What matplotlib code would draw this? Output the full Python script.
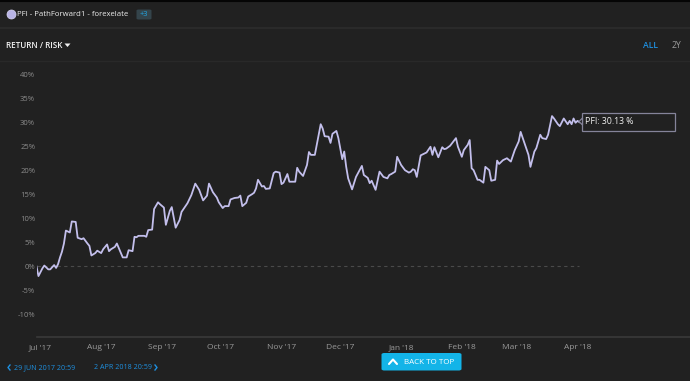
import matplotlib
matplotlib.use("Agg")
import matplotlib.dates as mdates
import matplotlib.pyplot as plt
import pandas as pd
from matplotlib.lines import Line2D
from matplotlib.patches import FancyBboxPatch, Polygon

plt.rcParams["font.family"] = ["Open Sans", "DejaVu Sans"]

# --- data --------------------------------------------------------------
START = "2017-06-29"
END = "2018-04-02"
# calendar-day offset from START of each sample
DAYS = [0, 1, 3, 4, 6, 7, 9, 10, 11, 12,
        13, 14, 15, 17, 18, 20, 21, 23, 24, 26,
        27, 28, 30, 31, 33, 34, 36, 37, 38, 40,
        41, 43, 44, 46, 47, 49, 50, 51, 52, 55,
        56, 57, 59, 60, 62, 63, 65, 66, 68, 69,
        71, 73, 74, 77, 79, 81, 83, 85, 87, 88,
        90, 92, 93, 95, 96, 98, 99, 101, 103, 104,
        105, 107, 108, 110, 111, 112, 113, 115, 116, 117,
        119, 121, 122, 124, 125, 126, 128, 129, 131, 132,
        133, 134, 136, 138, 139, 140, 142, 145, 146, 147,
        149, 150, 151, 153, 154, 156, 157, 158, 159, 161,
        163, 166, 167, 169, 170, 171, 173, 175, 177, 179,
        180, 181, 183, 184, 186, 188, 190, 191, 192, 193,
        194, 196, 199, 201, 202, 203, 205, 207, 208, 209,
        211, 214, 215, 217, 218, 220, 221, 222, 223, 225,
        226, 228, 229, 231, 232, 234, 235, 236, 238, 240,
        242, 244, 246, 247, 249, 251, 252, 254, 255, 257,
        258, 260, 261, 263, 264, 266, 267, 269, 271, 272,
        273, 274, 275, 276, 277]
# cumulative return, %
PFI = [0.0, -2.0, -0.4, 0.2, -0.6, -0.6, 0.3, -0.3, 0.5, 1.9,
       3.1, 4.8, 7.5, 7.1, 9.4, 9.3, 6.0, 5.7, 5.9, 4.8,
       4.3, 2.3, 2.8, 3.3, 2.8, 3.6, 4.6, 3.2, 3.6, 4.1,
       4.8, 2.9, 1.9, 1.9, 3.4, 3.2, 6.2, 6.1, 6.4, 6.4,
       6.2, 7.6, 7.7, 12.0, 13.4, 13.0, 12.3, 8.7, 11.6, 12.4,
       8.1, 9.7, 11.4, 13.2, 14.9, 17.3, 16.0, 13.8, 14.8, 17.3,
       15.5, 14.4, 13.4, 12.2, 12.6, 12.6, 14.0, 14.3, 14.4, 14.8,
       12.6, 13.3, 14.6, 15.1, 15.4, 16.3, 18.1, 16.7, 16.8, 16.2,
       16.3, 19.5, 19.8, 19.6, 17.2, 17.5, 19.3, 17.7, 17.7, 17.7,
       20.6, 19.8, 18.9, 21.2, 23.9, 23.3, 23.3, 29.7, 28.8, 27.2,
       27.1, 25.8, 27.7, 28.3, 26.8, 22.4, 24.0, 20.8, 18.4, 16.1,
       18.7, 21.0, 19.1, 18.5, 17.4, 17.9, 16.0, 19.8, 18.7, 18.4,
       19.1, 19.3, 19.8, 22.9, 21.2, 20.1, 19.6, 19.8, 20.3, 20.1,
       18.7, 23.2, 23.8, 25.0, 23.3, 24.9, 22.8, 24.9, 24.5, 24.6,
       25.2, 26.8, 25.0, 22.9, 24.3, 25.4, 26.4, 20.5, 20.1, 18.1,
       18.1, 17.5, 20.8, 20.1, 17.9, 18.1, 22.1, 21.4, 22.2, 22.6,
       21.9, 24.3, 26.1, 28.1, 25.7, 23.3, 20.8, 24.0, 24.7, 27.5,
       26.8, 26.6, 27.5, 31.4, 30.9, 29.7, 29.3, 30.9, 29.7, 30.4,
       29.7, 30.9, 30.0, 30.4, 30.13]
Y_TICKS = [-10, -5, 0, 5, 10, 15, 20, 25, 30, 35, 40]

BG = "#212121"
LINE = "#c3bfec"
BLUE = "#1e90e0"
W, H = 690, 381


def fx(x):
    return x / W


def fy(y):
    return 1 - y / H


dates = pd.Timestamp(START) + pd.to_timedelta(DAYS, unit="D")

fig = plt.figure(figsize=(W / 100, H / 100), dpi=100, facecolor=BG)
ax = fig.add_axes([fx(36.5), fy(337), fx(690 - 36.5), (337 - 70) / H])
ax.set_facecolor(BG)

ax.plot(dates, PFI, color=LINE, lw=1.3, zorder=3)
ax.hlines(0, pd.Timestamp(START), pd.Timestamp(END), colors="#4a4a4a",
          linestyles=(0, (3, 3)), lw=0.8, zorder=1)

ax.set_xlim(pd.Timestamp(START), pd.Timestamp(START) + pd.Timedelta(days=333.4))
ax.set_ylim(-14.72, 41.02)
ax.set_yticks(Y_TICKS)
ax.set_yticklabels([f"{v}%" for v in Y_TICKS])
ax.set_xticks(pd.date_range(START, END, freq="MS"))
ax.xaxis.set_major_formatter(mdates.DateFormatter("%b '%y"))
ax.tick_params(axis="y", length=0, pad=1, labelsize=5.5, labelcolor="#8c8c8c")
ax.tick_params(axis="x", length=0, pad=5, labelsize=6, labelcolor="#9a9a9a")
for s in ["top", "right", "left"]:
    ax.spines[s].set_visible(False)
ax.spines["bottom"].set_color("#3a3a3a")
ax.spines["bottom"].set_linewidth(1.2)

# tooltip on the last point
box = FancyBboxPatch((fx(582), fy(131)), fx(675 - 582), (131 - 113) / H,
                     boxstyle="square,pad=0", transform=fig.transFigure,
                     facecolor=BG, edgecolor="#85849a", lw=0.9, zorder=5)
fig.add_artist(box)
fig.add_artist(Polygon([(fx(582.5), fy(118)), (fx(579), fy(121.5)), (fx(582.5), fy(125))],
                       closed=True, transform=fig.transFigure, facecolor=BG,
                       edgecolor="#85849a", lw=0.9, zorder=6))
fig.text(fx(585), fy(122), "PFI: 30.13 %", color="#f0f0f0", fontsize=6.3,
         va="center", ha="left", zorder=7)

# header chrome
fig.add_artist(Line2D([0, 1], [fy(0.5), fy(0.5)], color="#050505", lw=1.5))
fig.add_artist(Line2D([0, 1], [fy(28), fy(28)], color="#2c2c2c", lw=1.2))
fig.add_artist(Line2D([0, 1], [fy(61), fy(61)], color="#292929", lw=1))
fig.add_artist(Line2D([fx(10.7)], [fy(14)], marker="o", ms=6.5, color="#b9b4e6", mec="#d8d5f2", mew=0.5))
fig.text(fx(17), fy(14), "PFI - PathForward1 - forexelate", color="#ededed",
         fontsize=5.6, va="center", ha="left")
fig.add_artist(FancyBboxPatch((fx(136.5), fy(19.5)), fx(15), 10 / H,
                              boxstyle="round,pad=0,rounding_size=0.003",
                              transform=fig.transFigure, facecolor="#34444b", edgecolor="none"))
fig.text(fx(144), fy(14.5), "+3", color="#21a8e6", fontsize=5.3, va="center", ha="center")
fig.text(fx(6), fy(45), "RETURN / RISK", color="#f2f2f2", fontsize=5.9,
         fontweight="semibold", va="center", ha="left")
fig.add_artist(Polygon([(fx(64.5), fy(43.5)), (fx(70.5), fy(43.5)), (fx(67.5), fy(47))],
                       closed=True, transform=fig.transFigure, facecolor="#f2f2f2", edgecolor="none"))
fig.text(fx(650.5), fy(45), "ALL", color=BLUE, fontsize=6.2, fontweight="semibold",
         va="center", ha="center")
fig.text(fx(676.5), fy(45), "2Y", color="#9a9a9a", fontsize=6.2, va="center", ha="center")

# footer
fig.add_artist(Line2D([fx(10), fx(8), fx(10)], [fy(365), fy(367.5), fy(370)], color=BLUE, lw=1))
fig.text(fx(14), fy(367.5), "29 JUN 2017 20:59", color=BLUE, fontsize=5.1, va="center", ha="left")
fig.text(fx(94), fy(367.5), "2 APR 2018 20:59", color=BLUE, fontsize=5.1, va="center", ha="left")
fig.add_artist(Line2D([fx(155), fx(157), fx(155)], [fy(365), fy(367.5), fy(370)], color=BLUE, lw=1))
fig.add_artist(FancyBboxPatch((fx(381.5), fy(370.5)), fx(80), 17.5 / H,
                              boxstyle="round,pad=0,rounding_size=0.004",
                              transform=fig.transFigure, facecolor="#13b4e8", edgecolor="none"))
fig.add_artist(Line2D([fx(389), fx(393), fx(397)], [fy(364), fy(359.5), fy(364)],
                      color="white", lw=1.5, solid_capstyle="round"))
fig.text(fx(429), fy(362), "BACK TO TOP", color="white", fontsize=5.8, va="center", ha="center")

fig.savefig("out.png", dpi=100, facecolor=BG)
